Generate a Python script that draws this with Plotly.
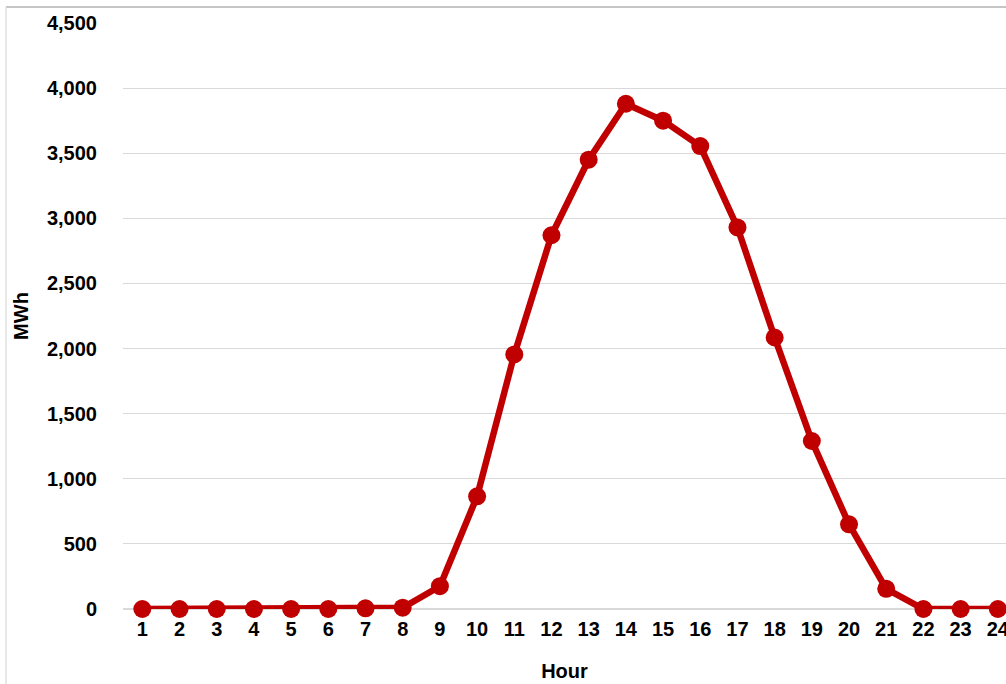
import plotly.graph_objects as go

# Hourly energy output (MWh) for hours 1-24
hours = list(range(1, 25))
mwh = [0, 0, 0, 0, 0, 0, 5, 10, 175, 865, 1955, 2870, 3450, 3880, 3750, 3555,
       2930, 2085, 1290, 650, 155, 0, 0, 0]
y_ticks = [0, 500, 1000, 1500, 2000, 2500, 3000, 3500, 4000, 4500]

W, H = 1006, 684
ML, MR, MT, MB = 123, 0, 23, 75
RED = "#C00000"
GRID = "#D9D9D9"
FONT = dict(family="Liberation Sans, Arial, sans-serif", size=20, color="#000000", weight="bold")

fig = go.Figure(go.Scatter(
    x=hours, y=mwh, mode="lines+markers",
    line=dict(color=RED, width=6.5),
    marker=dict(color=RED, size=18),
    cliponaxis=False,
    showlegend=False,
))

# chart-area border (top and left edges)
pw, ph = W - ML - MR, H - MT - MB
bx0 = (6 - ML) / pw
by_top = (H - MB - 7) / ph
by_bot = (H - MB - H) / ph
fig.add_shape(type="line", xref="paper", yref="paper", x0=bx0, x1=1.2, y0=by_top, y1=by_top,
              line=dict(color="#8C8C8C", width=1.2))
fig.add_shape(type="line", xref="paper", yref="paper", x0=bx0, x1=bx0, y0=by_top, y1=by_bot,
              line=dict(color=GRID, width=1.2))

fig.update_layout(
    width=W, height=H,
    margin=dict(l=ML, r=MR, t=MT, b=MB, pad=0, autoexpand=False),
    paper_bgcolor="white", plot_bgcolor="white",
    font=FONT,
    xaxis=dict(
        range=[0.48, 24.22],
        tickmode="array", tickvals=hours, ticktext=[str(h) for h in hours],
        showgrid=False, zeroline=False, showline=False,
        ticks="", ticklabelstandoff=6, ticklabeloverflow="allow",
        automargin=False,
        tickfont=FONT,
        title=dict(text="Hour", font=FONT, standoff=24),
    ),
    yaxis=dict(
        range=[0, 4500],
        tickmode="array", tickvals=y_ticks,
        tickformat=",",
        showgrid=True, gridcolor=GRID, gridwidth=1,
        zeroline=True, zerolinecolor=GRID, zerolinewidth=1.5, showline=False,
        ticks="", ticklabelstandoff=25,
        automargin=False,
        tickfont=FONT,
        title=dict(text="MWh", font=FONT, standoff=12),
    ),
)

fig.write_html("out.html")
